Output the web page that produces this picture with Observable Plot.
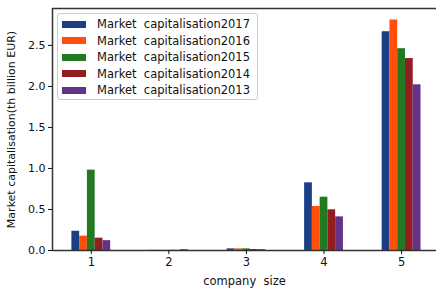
<!DOCTYPE html>
<html><head><meta charset="utf-8">
<script src="https://cdn.jsdelivr.net/npm/d3@7"></script>
<script src="https://cdn.jsdelivr.net/npm/@observablehq/plot@0.6"></script>
<style>
body{margin:0;background:#fff;}
#wrap{position:relative;width:436px;height:288px;font-family:"DejaVu Sans",sans-serif;}
#legend{position:absolute;left:57px;top:13px;width:201px;height:87px;border:1px solid #ccc;border-radius:3px;background:rgba(255,255,255,0.85);box-sizing:border-box;font-size:11.5px;color:#111;}
.row{position:absolute;left:4px;height:14px;display:flex;align-items:center;white-space:pre;}
.sw{width:24px;height:7px;margin-right:11px;}
</style></head><body>
<div id="wrap"></div>
<script>
const sizes = [1, 2, 3, 4, 5];
const years = ["2017", "2016", "2015", "2014", "2013"];
const colors = ["#1a3f85", "#ff4f0a", "#217a22", "#921e22", "#643287"];
const v2017 = [0.235, 0.002, 0.02, 0.825, 2.667];
const v2016 = [0.175, 0.002, 0.02, 0.537, 2.81];
const v2015 = [0.98, 0.002, 0.02, 0.65, 2.46];
const v2014 = [0.15, 0.002, 0.012, 0.496, 2.34];
const v2013 = [0.12, 0.01, 0.01, 0.41, 2.02];
const series = [v2017, v2016, v2015, v2014, v2013];
const yTicks = [0, 0.5, 1.0, 1.5, 2.0, 2.5];

const barW = 0.1;
const data = [];
series.forEach((vals, j) => vals.forEach((v, i) => {
  const x1 = sizes[i] - 0.25 + j * barW;
  data.push({year: years[j], size: sizes[i], value: v, x1, x2: x1 + barW});
}));

const plot = Plot.plot({
  width: 436, height: 288,
  marginLeft: 52, marginRight: 0, marginTop: 8, marginBottom: 38,
  style: {fontFamily: "DejaVu Sans, sans-serif", fontSize: "11px", color: "#111", background: "#fff"},
  x: {domain: [0.5, 5.45]},
  y: {domain: [0, 2.95]},
  color: {domain: years, range: colors},
  marks: [
    Plot.rectY(data, {x1: "x1", x2: "x2", y: "value", fill: "year"}),
    Plot.ruleY([0], {stroke: "#333", strokeWidth: 1.5}),
    Plot.ruleY([2.95], {stroke: "#333", strokeWidth: 1.5}),
    Plot.ruleX([0.5], {stroke: "#333", strokeWidth: 1.5}),
    Plot.axisX({ticks: sizes, tickFormat: d => String(d), tickSize: 4, tickPadding: 3, label: "company  size", labelAnchor: "center", labelArrow: "none", labelOffset: 34, fontSize: 11.5}),
    Plot.axisY({ticks: yTicks, tickFormat: d3.format(".1f"), tickSize: 4, tickPadding: 3, label: "Market capitalisation(th billion EUR)", labelAnchor: "center", labelArrow: "none", labelOffset: 45, fontSize: 11})
  ]
});
const wrap = document.getElementById("wrap");
wrap.appendChild(plot);

const legend = document.createElement("div");
legend.id = "legend";
years.forEach((y, j) => {
  const r = document.createElement("div");
  r.className = "row";
  r.style.top = (3 + j * 16.6) + "px";
  r.innerHTML = `<span class="sw" style="background:${colors[j]}"></span><span>Market  capitalisation${y}</span>`;
  legend.appendChild(r);
});
wrap.appendChild(legend);
</script>
</body></html>
